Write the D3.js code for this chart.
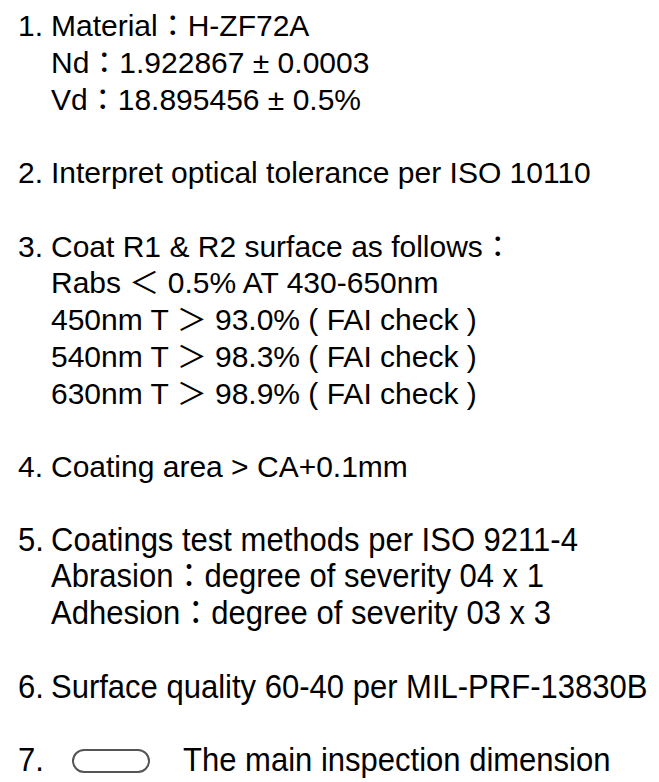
<!DOCTYPE html>
<html>
<head>
<meta charset="utf-8">
<script src="https://cdn.jsdelivr.net/npm/d3@7"></script>
<style>
  html, body { margin: 0; padding: 0; background: #fff; }
  svg text { font-family: "Liberation Sans", Arial, "Noto Sans CJK TC", sans-serif; fill: #000; }
</style>
</head>
<body>
<div id="notes"></div>
<script>
// Note numbers and the lines that belong to each note
const itemNumbers = ['1.', '2.', '3.', '4.', '5.', '6.', '7.'];
const itemLines = [
    ['Material：H-ZF72A', 'Nd：1.922867 ± 0.0003', 'Vd：18.895456 ± 0.5%'],
    ['Interpret optical tolerance per ISO 10110'],
    ['Coat R1 & R2 surface as follows：', 'Rabs ＜ 0.5% AT 430-650nm',
     '450nm T ＞ 93.0% ( FAI check )', '540nm T ＞ 98.3% ( FAI check )',
     '630nm T ＞ 98.9% ( FAI check )'],
    ['Coating area > CA+0.1mm'],
    ['Coatings test methods per ISO 9211-4', 'Abrasion：degree of severity 04 x 1',
     'Adhesion：degree of severity 03 x 3'],
    ['Surface quality 60-40 per MIL-PRF-13830B'],
    ['The main inspection dimension']
];
// notes 5-7 are set in a narrower face
const narrowItems = [4, 5, 6];
// note 7 carries the rounded-box symbol before its text
const markerItem = 6;

// Layout
const width = 659;
const height = 782;
const numberX = 18;
const indentX = 51;
const mainSize = 30;
const narrowSize = 33;
const narrowScale = 0.94;

// Build rows: one slot per line, one blank slot between notes
let rows = [];
let slot = 0;
itemLines.forEach((lines, i) => {
    lines.forEach((line, j) => {
        rows.push({ item: i, first: j === 0, text: line, slot: slot });
        slot++;
    });
    slot++;
});
const lastSlot = slot - 2;

let svg = d3.select('#notes')
    .append('svg')
    .attr('width', width)
    .attr('height', height);

// Baseline position for each slot
let yScale = d3.scaleLinear()
    .domain([0, lastSlot])
    .range([36, 771]);

const isNarrow = d => narrowItems.includes(d.item);

let rowGroups = svg.selectAll('g.row')
    .data(rows)
    .enter()
    .append('g')
    .attr('class', 'row')
    .attr('transform', d => 'translate(0,' + yScale(d.slot) + ') scale(' + (isNarrow(d) ? narrowScale : 1) + ',1)')
    .style('font-size', d => (isNarrow(d) ? narrowSize : mainSize) + 'px');

// Number in front of first line of each note
rowGroups.filter(d => d.first)
    .append('text')
    .attr('x', d => numberX / (isNarrow(d) ? narrowScale : 1))
    .text(d => itemNumbers[d.item]);

// Text of the line
rowGroups.filter(d => d.item !== markerItem)
    .append('text')
    .attr('x', d => indentX / (isNarrow(d) ? narrowScale : 1))
    .text(d => d.text);

// Note 7: symbol box then its text
let markerRow = rows.find(d => d.item === markerItem);
let my = yScale(markerRow.slot);
svg.append('rect')
    .attr('x', 73)
    .attr('y', my - 21)
    .attr('width', 76)
    .attr('height', 22)
    .attr('rx', 11)
    .attr('ry', 11)
    .attr('fill', '#fff')
    .attr('stroke', '#555')
    .attr('stroke-width', 2);

svg.append('text')
    .attr('transform', 'translate(183,' + my + ') scale(' + narrowScale + ',1)')
    .style('font-size', narrowSize + 'px')
    .text(markerRow.text);
</script>
</body>
</html>
